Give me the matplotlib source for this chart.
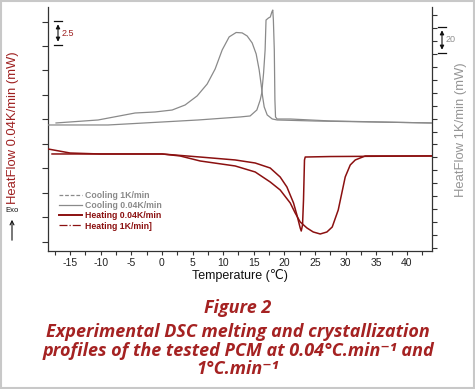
import numpy as np
import matplotlib
matplotlib.use("Agg")
import matplotlib.pyplot as plt
from matplotlib.lines import Line2D
from matplotlib.patches import Rectangle
from matplotlib.ticker import MultipleLocator, NullFormatter

# ---------------- data ----------------
# Cooling 0.04 K/min (left axis, mW)
cool_slow_T = [-18.6, -8.8, -0.1, 5.9, 12.8, 14.4, 15.5, 16.05, 16.3, 16.6, 16.85, 17.0, 17.4,
               17.7, 17.95, 18.1, 18.2, 18.35, 18.45, 18.55, 18.8, 21.0, 27.5, 44.1]
cool_slow_Q = [11.94, 11.94, 12.24, 12.45, 12.76, 12.86, 13.47, 14.49, 15.2, 17.24, 19.59, 22.65,
               22.86, 22.96, 23.47, 23.67, 22.65, 19.59, 14.49, 12.76, 12.55, 12.55, 12.35, 12.14]

# Cooling 1 K/min (right axis, mW)
cool_fast_T = [-17.29, -10.42, -4.38, -1.11, 1.67, 3.79, 5.75, 7.39, 8.69, 9.84, 10.98, 12.12, 13.10,
               13.92, 14.74, 15.39, 15.88, 16.21, 16.45, 16.70, 17.19, 18.01, 18.82, 25.03, 44.15]
cool_fast_Q = [36.6, 38.9, 44.3, 45.1, 46.6, 50.5, 57.5, 66.7, 78.3, 93.0, 103.1, 106.5, 106.2,
               103.8, 98.4, 89.9, 77.6, 66.0, 56.7, 49.0, 42.8, 39.7, 38.9, 38.1, 36.6]

# Heating 0.04 K/min (left axis, mW)
heat_slow_T = [-18.59, -15.0, -10.10, 0.03, 6.24, 11.96, 15.23, 17.68, 19.31, 20.41, 21.49, 22.04,
               22.58, 22.75, 22.96, 23.12, 23.28, 23.40, 27.48, 44.15]
heat_slow_Q = [9.49, 9.08, 8.98, 8.98, 8.67, 8.37, 8.06, 7.55, 6.63, 5.61, 3.98, 2.76,
               1.43, 1.12, 1.73, 4.29, 8.37, 8.67, 8.72, 8.78]

# Heating 1 K/min (right axis, mW)
heat_fast_T = [-17.94, -10.10, 0.03, 2.97, 6.24, 11.96, 15.23, 17.68, 19.31, 20.95, 21.76, 22.58,
               23.68, 24.71, 25.85, 26.94, 27.81, 28.79, 29.93, 30.75, 31.57, 33.20, 44.15]
heat_fast_Q = [12.64, 12.64, 12.64, 11.10, 7.23, 3.37, -1.27, -9.00, -15.18, -25.22, -32.95, -39.91,
               -44.54, -47.64, -49.18, -47.64, -43.77, -30.63, -5.13, 4.14, 8.01, 11.10, 11.10]

x_ticks = [-15, -10, -5, 0, 5, 10, 15, 20, 25, 30, 35, 40]
legend_labels = ["Cooling 1K/min", "Cooling 0.04K/min", "Heating 0.04K/min", "Heating 1K/min]"]
caption_title = "Figure 2"
caption_lines = ["Experimental DSC melting and crystallization",
                 "profiles of the tested PCM at 0.04°C.min⁻¹ and",
                 "1°C.min⁻¹"]

# ---------------- style ----------------
GRAY = "#8a8a8a"
RED = "#8b1010"
LABEL_RED = "#9e2020"
CAP_RED = "#a52222"
plt.rcParams['font.family'] = ['Liberation Sans', 'DejaVu Sans']

W, H = 475, 389
fig = plt.figure(figsize=(W / 100, H / 100), dpi=100)
fig.patch.set_facecolor("white")

def fx(px):
    return px / W

def fy(py):
    return 1 - py / H

ax = fig.add_axes([fx(48), fy(250.7), fx(432) - fx(48), fy(7) - fy(250.7)])
ax2 = ax.twinx()

ax.set_xlim(-18.6, 44.1)
ax.set_ylim(-0.89, 23.98)
ax2.set_ylim(-62.1, 126.2)

ax.plot(cool_slow_T, cool_slow_Q, color=GRAY, lw=0.9, zorder=3)
ax2.plot(cool_fast_T, cool_fast_Q, color=GRAY, lw=0.9, zorder=3)
ax.plot(heat_slow_T, heat_slow_Q, color=RED, lw=1.1, zorder=4)
ax2.plot(heat_fast_T, heat_fast_Q, color=RED, lw=1.1, zorder=4)

for a in (ax, ax2):
    a.spines['top'].set_visible(False)
    for s in ('left', 'right', 'bottom'):
        a.spines[s].set_color("#333333")
        a.spines[s].set_linewidth(0.9)
ax.spines['right'].set_visible(False)
ax2.spines['left'].set_visible(False)
ax2.spines['bottom'].set_visible(False)

ax.set_yticks(np.arange(0, 23, 2.5))
ax.yaxis.set_major_formatter(NullFormatter())
ax.tick_params(axis='y', direction='out', length=4, width=0.8, color="#333333")
ax2.set_yticks(np.arange(-60, 121, 10))
ax2.yaxis.set_major_formatter(NullFormatter())
ax2.tick_params(axis='y', direction='out', length=3.5, width=0.8, color="#333333")

ax.set_xticks(x_ticks)
ax.set_xticklabels([str(t) for t in x_ticks])
ax.xaxis.set_minor_locator(MultipleLocator(2.5))
ax.tick_params(axis='x', which='both', direction='out', length=3, width=0.8,
               color="#333333", labelsize=7.5, labelcolor="#222222", pad=2)

ax.set_xlabel("Temperature (℃)", fontsize=9, color="#111111", labelpad=1)

# axis labels
fig.text(fx(13), fy(128), "HeatFlow 0.04K/min (mW)", rotation=90, ha='center', va='center',
         fontsize=9.4, color=LABEL_RED)
fig.text(fx(461), fy(130), "HeatFlow 1K/min (mW)", rotation=90, ha='center', va='center',
         fontsize=9.4, color="#959595")

# Exo arrow
fig.text(fx(12), fy(210), "Exo", ha='center', va='center', fontsize=5.5, color="#111111")
fig.add_artist(matplotlib.patches.FancyArrowPatch((fx(12), fy(243)), (fx(12), fy(217)),
               transform=fig.transFigure, arrowstyle='->', mutation_scale=7, lw=0.8, color="#111111"))

# scale bars
def scale_bar(x, y1, y2, color, text, tx):
    for yy in (y1, y2):
        fig.add_artist(Line2D([fx(x - 4), fx(x + 4)], [fy(yy), fy(yy)], transform=fig.transFigure,
                              color="#111111", lw=0.9))
    fig.add_artist(matplotlib.patches.FancyArrowPatch((fx(x), fy(y2 - 0.5)), (fx(x), fy(y1 + 0.5)),
                   transform=fig.transFigure, arrowstyle='<|-|>', mutation_scale=6, lw=0.8,
                   color="#111111", facecolor="white"))
    fig.text(fx(tx), fy((y1 + y2) / 2), text, ha='left', va='center', fontsize=6.5, color=color)

scale_bar(58, 21, 45, LABEL_RED, "2.5", 62)
scale_bar(442, 27, 53, "#8f8f8f", "20", 446)

# legend
handles = [Line2D([], [], color=GRAY, lw=0.9, ls=(0, (3, 1.5))),
           Line2D([], [], color=GRAY, lw=0.9),
           Line2D([], [], color=RED, lw=1.4),
           Line2D([], [], color=RED, lw=0.9, ls='-.')]
leg = ax.legend(handles, legend_labels, loc='upper left', bbox_to_anchor=(fx(55), fy(187)),
                bbox_transform=fig.transFigure, frameon=False, handlelength=2.6, handletextpad=0.35,
                labelspacing=0.12, borderpad=0, prop={'size': 6.3, 'weight': 'bold'})
for t, c in zip(leg.get_texts(), [GRAY, GRAY, RED, RED]):
    t.set_color(c)

# caption
cap_fam = ['Open Sans', 'DejaVu Sans']
fig.text(fx(238), fy(308), caption_title, ha='center', va='center', fontsize=13,
         fontweight='bold', fontstyle='italic', color=CAP_RED, family=cap_fam)
for yy, line in zip([332, 351, 369], caption_lines):
    fig.text(fx(238), fy(yy), line, ha='center', va='center', fontsize=13,
             fontweight='bold', fontstyle='italic', color=CAP_RED, family=cap_fam)

# image border
fig.add_artist(Rectangle((0.002, 0.002), 0.996, 0.996, transform=fig.transFigure, fill=False,
                         edgecolor="#c8c8c8", lw=1.5))

fig.savefig("out.png", dpi=100, facecolor="white")
